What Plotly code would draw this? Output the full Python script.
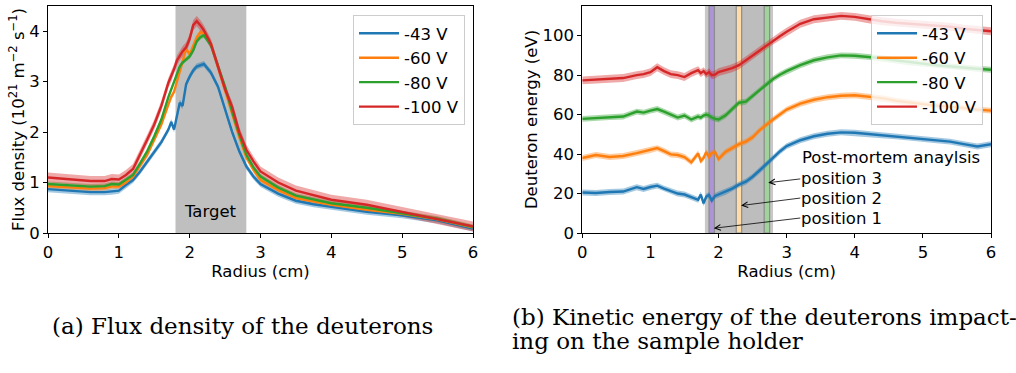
import plotly.graph_objects as go

# ---------------- data ----------------
voltages = ["-43 V", "-60 V", "-80 V", "-100 V"]
colors = ["#1f77b4", "#ff7f0e", "#2ca02c", "#d62728"]

radius_flux = [0, 0.2, 0.4, 0.6, 0.8, 0.9, 1.0, 1.1, 1.2, 1.3, 1.4, 1.5, 1.6, 1.7, 1.74, 1.78,
               1.82, 1.86, 1.9, 1.95, 2.0, 2.05, 2.1, 2.15, 2.2, 2.3, 2.4, 2.5, 2.6, 2.7, 2.8,
               2.9, 3.0, 3.25, 3.5, 3.75, 4.0, 4.5, 5.0, 5.5, 6.0]
flux_43 = [0.87, 0.85, 0.83, 0.81, 0.81, 0.82, 0.84, 0.95, 1.05, 1.22, 1.42, 1.6, 1.8, 2.05, 2.2, 2.05,
           2.3, 2.58, 2.52, 2.95, 3.1, 3.22, 3.3, 3.33, 3.35, 3.18, 2.9, 2.45, 2.0, 1.62, 1.32,
           1.12, 0.97, 0.78, 0.64, 0.57, 0.52, 0.42, 0.35, 0.25, 0.09]
flux_60 = [0.93, 0.91, 0.9, 0.88, 0.89, 0.92, 0.92, 1.0, 1.12, 1.33, 1.55, 1.85, 2.15, 2.55, 2.7, 2.8,
           3.0, 3.2, 3.35, 3.65, 3.54, 3.72, 3.88, 3.98, 3.95, 3.75, 3.3, 2.85, 2.35, 1.9, 1.5,
           1.25, 1.05, 0.85, 0.69, 0.62, 0.56, 0.46, 0.38, 0.27, 0.11]
flux_80 = [0.97, 0.95, 0.93, 0.92, 0.93, 0.97, 0.96, 1.05, 1.15, 1.38, 1.62, 1.92, 2.25, 2.7, 2.85, 3.0,
           3.15, 3.3, 3.38, 3.45, 3.5, 3.62, 3.8, 3.88, 3.92, 3.72, 3.32, 2.9, 2.4, 1.95, 1.55,
           1.3, 1.12, 0.9, 0.74, 0.66, 0.59, 0.5, 0.39, 0.28, 0.12]
flux_100 = [1.1, 1.08, 1.05, 1.03, 1.03, 1.07, 1.06, 1.15, 1.27, 1.55, 1.85, 2.15, 2.52, 2.98, 3.1, 3.25,
            3.42, 3.52, 3.6, 3.68, 3.85, 4.12, 4.2, 4.12, 4.02, 3.75, 3.3, 2.85, 2.5, 2.0, 1.65,
            1.42, 1.22, 1.0, 0.84, 0.75, 0.66, 0.56, 0.42, 0.28, 0.13]
flux_err = [0.06, 0.05, 0.05, 0.1]

radius_energy = [0, 0.2, 0.4, 0.6, 0.8, 0.9, 1.0, 1.1, 1.2, 1.3, 1.4, 1.5, 1.6, 1.7, 1.74, 1.78,
                 1.82, 1.86, 1.9, 1.95, 2.0, 2.1, 2.2, 2.3, 2.4, 2.5, 2.6, 2.7, 2.8, 2.9, 3.0,
                 3.2, 3.4, 3.6, 3.8, 4.0, 4.2, 4.4, 4.6, 4.8, 5.0, 5.2, 5.4, 5.6, 5.8, 6.0]
energy_43 = [20.5, 20.3, 20.8, 21.0, 23.2, 22.3, 23.3, 24.0, 22.5, 21.3, 20.0, 19.5, 18.2, 16.8, 19.5, 15.0,
             18.5, 19.3, 16.5, 18.8, 19.5, 20.8, 22.5, 24.5, 26.0, 28.5, 31.5, 34.5, 38.0, 41.3, 44.0,
             47.0, 49.0, 50.3, 51.0, 50.8, 50.2, 49.5, 49.0, 48.3, 47.5, 47.0, 46.3, 45.0, 43.8, 45.0]
energy_60 = [38.0, 39.5, 38.5, 39.0, 40.5, 41.3, 42.0, 43.0, 41.5, 39.8, 39.5, 38.5, 35.8, 40.3, 36.5, 38.0,
             41.0, 38.5, 40.5, 41.0, 37.5, 41.0, 43.0, 45.0, 46.3, 48.5, 52.0, 55.0, 57.5, 60.0, 62.5,
             65.5, 67.5, 68.8, 69.5, 69.8, 69.0, 68.3, 67.0, 66.0, 65.3, 64.5, 64.0, 63.3, 62.5, 62.0]
energy_80 = [57.8, 58.3, 58.8, 59.0, 61.5, 61.0, 62.0, 62.8, 61.5, 60.0, 58.5, 59.5, 57.5, 59.0, 58.5, 59.5,
             60.0, 59.5, 58.5, 57.8, 57.5, 59.5, 62.5, 66.0, 66.5, 69.5, 72.5, 75.5, 78.0, 80.2, 82.0,
             85.0, 87.5, 89.0, 90.0, 89.8, 89.3, 88.5, 87.5, 86.5, 85.8, 85.0, 84.3, 83.8, 83.2, 82.7]
energy_100 = [77.3, 77.8, 78.0, 78.5, 80.0, 80.5, 81.5, 84.0, 82.0, 80.5, 80.0, 79.0, 81.0, 82.5, 81.0, 82.0,
              80.5, 81.5, 80.0, 80.3, 81.5, 82.5, 83.5, 85.0, 87.5, 90.0, 92.5, 95.0, 97.5, 99.7, 102.0,
              106.0, 108.3, 109.2, 110.0, 109.5, 108.3, 107.3, 106.5, 106.0, 105.5, 105.0, 104.5, 103.5, 103.0, 102.2]
energy_err = [1.5, 1.5, 1.5, 2.0]

target_span = [1.8, 2.8]
positions = ["position 1", "position 2", "position 3"]
position_spans = [[1.86, 1.94], [2.26, 2.34], [2.67, 2.75]]
position_colors = ["rgb(172,148,214)", "rgb(255,219,165)", "rgb(160,210,155)"]
arrow_heads = [[1.93, 2.4], [2.33, 13.9], [2.73, 25.5]]
label_x = 3.2
label_y = [7.6, 17.7, 27.4]

FONT = "DejaVu Sans"
FS = 16.5
W, H = 1016, 373


def hexrgba(h, a):
    h = h.lstrip("#")
    return "rgba(%d,%d,%d,%.2f)" % (int(h[0:2], 16), int(h[2:4], 16), int(h[4:6], 16), a)


fig = go.Figure()

flux_sets = [flux_43, flux_60, flux_80, flux_100]
energy_sets = [energy_43, energy_60, energy_80, energy_100]

for i in range(4):
    y = flux_sets[i]
    e = flux_err[i]
    fig.add_trace(go.Scatter(
        x=radius_flux + radius_flux[::-1],
        y=[v + e for v in y] + [v - e for v in y][::-1],
        fill="toself", fillcolor=hexrgba(colors[i], 0.4), line=dict(width=0),
        hoverinfo="skip", showlegend=False, xaxis="x", yaxis="y"))
for i in range(4):
    fig.add_trace(go.Scatter(
        x=radius_flux, y=flux_sets[i], mode="lines", name=voltages[i],
        line=dict(color=colors[i], width=2.4), xaxis="x", yaxis="y", legend="legend"))

for i in range(4):
    y = energy_sets[i]
    e = energy_err[i]
    fig.add_trace(go.Scatter(
        x=radius_energy + radius_energy[::-1],
        y=[v + e for v in y] + [v - e for v in y][::-1],
        fill="toself", fillcolor=hexrgba(colors[i], 0.4), line=dict(width=0),
        hoverinfo="skip", showlegend=False, xaxis="x2", yaxis="y2"))
for i in range(4):
    fig.add_trace(go.Scatter(
        x=radius_energy, y=energy_sets[i], mode="lines", name=voltages[i],
        line=dict(color=colors[i], width=2.4), xaxis="x2", yaxis="y2", legend="legend2"))

shapes = []
shapes.append(dict(type="rect", xref="x", yref="y domain", x0=target_span[0], x1=target_span[1],
                   y0=0, y1=1, fillcolor="rgb(191,191,191)", line=dict(width=0), layer="below"))
shapes.append(dict(type="rect", xref="x2", yref="y2 domain", x0=target_span[0], x1=target_span[1],
                   y0=0, y1=1, fillcolor="rgb(200,200,200)", line=dict(width=0), layer="below"))
shapes.append(dict(type="rect", xref="x2", yref="y2 domain", x0=position_spans[0][1], x1=position_spans[2][0],
                   y0=0, y1=1, fillcolor="rgb(189,189,189)", line=dict(width=0), layer="below"))
for span, col in zip(position_spans, position_colors):
    shapes.append(dict(type="rect", xref="x2", yref="y2 domain", x0=span[0], x1=span[1],
                       y0=0, y1=1, fillcolor=col, line=dict(width=1.2, color="rgb(140,140,140)"),
                       layer="below"))

annotations = []
annotations.append(dict(x=2.3, y=0.42, xref="x", yref="y", text="Target", showarrow=False,
                        font=dict(family=FONT, size=FS, color="black")))
annotations.append(dict(x=label_x, y=38, xref="x2", yref="y2", text="Post-mortem anaylsis",
                        showarrow=False, xanchor="left", font=dict(family=FONT, size=FS, color="black")))
for name, ly, head in zip(positions, label_y, arrow_heads):
    annotations.append(dict(x=head[0], y=head[1], xref="x2", yref="y2", ax=label_x, ay=ly,
                            axref="x2", ayref="y2", text=name, xanchor="left", yanchor="middle",
                            showarrow=True, arrowhead=5, arrowsize=1.4, arrowwidth=0.8,
                            arrowcolor="black", standoff=0, borderpad=0,
                            font=dict(family=FONT, size=FS, color="black")))

CAP = dict(family="DejaVu Serif", size=23, color="black")
annotations.append(dict(x=50 / W, y=1 - 326 / H, xref="paper", yref="paper", xanchor="left",
                        yanchor="middle", showarrow=False, text="(a) Flux density of the deuterons", font=CAP))
annotations.append(dict(x=510 / W, y=1 - 317 / H, xref="paper", yref="paper", xanchor="left",
                        yanchor="middle", showarrow=False,
                        text="(b) Kinetic energy of the deuterons impact-", font=CAP))
annotations.append(dict(x=510 / W, y=1 - 341 / H, xref="paper", yref="paper", xanchor="left",
                        yanchor="middle", showarrow=False, text="ing on the sample holder", font=CAP))

axis_common = dict(showline=True, linecolor="black", linewidth=1, mirror=True, ticks="outside",
                   ticklen=4, tickwidth=1, tickcolor="black", showgrid=False, zeroline=False,
                   tickfont=dict(family=FONT, size=FS, color="black"), automargin=False)

ydom = [(H - 233) / H, (H - 6) / H]

fig.update_layout(
    width=W, height=H, margin=dict(l=0, r=0, t=0, b=0),
    paper_bgcolor="white", plot_bgcolor="white",
    font=dict(family=FONT, size=FS, color="black"),
    xaxis=dict(domain=[48 / W, 473 / W], range=[0, 6], dtick=1, anchor="y",
               title=dict(text="Radius (cm)", standoff=0, font=dict(size=FS)), **axis_common),
    yaxis=dict(domain=ydom, range=[0, 4.5], dtick=1, anchor="x",
               title=dict(text="Flux density (10<sup>21</sup> m<sup>−2</sup> s<sup>−1</sup>)", standoff=0,
                          font=dict(size=FS)), **axis_common),
    xaxis2=dict(domain=[582.3 / W, 991 / W], range=[0, 6], dtick=1, anchor="y2",
                title=dict(text="Radius (cm)", standoff=0, font=dict(size=FS)), **axis_common),
    yaxis2=dict(domain=ydom, range=[0, 115], dtick=20, anchor="x2",
                title=dict(text="Deuteron energy (eV)", standoff=0, font=dict(size=FS)), **axis_common),
    legend=dict(x=465 / W, xanchor="right", y=1 - 15 / H, yanchor="top",
                bgcolor="rgba(255,255,255,0.8)", bordercolor="rgb(204,204,204)", borderwidth=1,
                font=dict(family=FONT, size=FS), itemwidth=40, tracegroupgap=0),
    legend2=dict(x=983 / W, xanchor="right", y=1 - 15 / H, yanchor="top",
                 bgcolor="rgba(255,255,255,0.8)", bordercolor="rgb(204,204,204)", borderwidth=1,
                 font=dict(family=FONT, size=FS), itemwidth=40, tracegroupgap=0),
    shapes=shapes, annotations=annotations,
)

fig.write_html("out.html")
